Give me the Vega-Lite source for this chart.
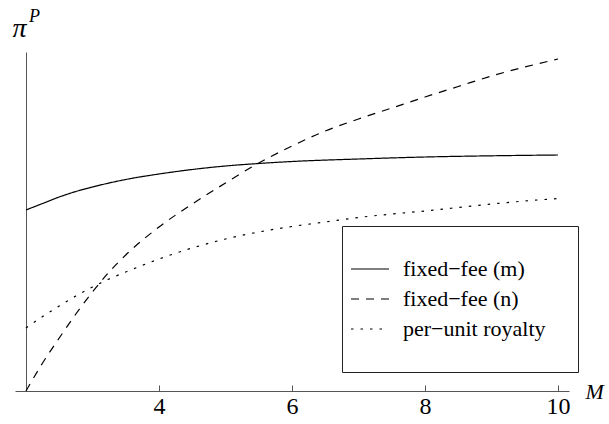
{
  "$schema": "https://vega.github.io/schema/vega-lite/v6.json",
  "width": 554,
  "height": 339,
  "autosize": {"type": "none"},
  "padding": {"left": 15, "top": 52, "right": 40, "bottom": 33},
  "background": "white",
  "config": {"view": {"stroke": null}, "font": "Liberation Serif, Times New Roman, Times, serif"},
  "title": {"text": "P", "font": "Liberation Serif, Times New Roman, Times, serif", "fontStyle": "italic", "fontWeight": "normal", "fontSize": 18, "color": "black", "anchor": "start", "frame": "group", "offset": 0, "baseline": "alphabetic", "dx": 14, "dy": 26},
  "data": {"values": [
    {"series": "fixed−fee (m)", "M": 2, "value": 1.81},
    {"series": "fixed−fee (m)", "M": 2.25, "value": 1.875},
    {"series": "fixed−fee (m)", "M": 2.5, "value": 1.94},
    {"series": "fixed−fee (m)", "M": 2.75, "value": 1.995},
    {"series": "fixed−fee (m)", "M": 3, "value": 2.04},
    {"series": "fixed−fee (m)", "M": 3.5, "value": 2.115},
    {"series": "fixed−fee (m)", "M": 4, "value": 2.17},
    {"series": "fixed−fee (m)", "M": 4.5, "value": 2.215},
    {"series": "fixed−fee (m)", "M": 5, "value": 2.25},
    {"series": "fixed−fee (m)", "M": 5.5, "value": 2.275},
    {"series": "fixed−fee (m)", "M": 6, "value": 2.295},
    {"series": "fixed−fee (m)", "M": 7, "value": 2.32},
    {"series": "fixed−fee (m)", "M": 8, "value": 2.34},
    {"series": "fixed−fee (m)", "M": 9, "value": 2.352},
    {"series": "fixed−fee (m)", "M": 10, "value": 2.36},
    {"series": "fixed−fee (n)", "M": 2, "value": 0.0},
    {"series": "fixed−fee (n)", "M": 2.25, "value": 0.28},
    {"series": "fixed−fee (n)", "M": 2.5, "value": 0.53},
    {"series": "fixed−fee (n)", "M": 2.75, "value": 0.77},
    {"series": "fixed−fee (n)", "M": 3, "value": 0.99},
    {"series": "fixed−fee (n)", "M": 3.25, "value": 1.19},
    {"series": "fixed−fee (n)", "M": 3.5, "value": 1.36},
    {"series": "fixed−fee (n)", "M": 4, "value": 1.64},
    {"series": "fixed−fee (n)", "M": 4.5, "value": 1.87},
    {"series": "fixed−fee (n)", "M": 5, "value": 2.08},
    {"series": "fixed−fee (n)", "M": 5.5, "value": 2.28},
    {"series": "fixed−fee (n)", "M": 6, "value": 2.45},
    {"series": "fixed−fee (n)", "M": 6.5, "value": 2.6},
    {"series": "fixed−fee (n)", "M": 7, "value": 2.72},
    {"series": "fixed−fee (n)", "M": 7.5, "value": 2.83},
    {"series": "fixed−fee (n)", "M": 8, "value": 2.94},
    {"series": "fixed−fee (n)", "M": 8.5, "value": 3.045},
    {"series": "fixed−fee (n)", "M": 9, "value": 3.15},
    {"series": "fixed−fee (n)", "M": 9.5, "value": 3.24},
    {"series": "fixed−fee (n)", "M": 10, "value": 3.32},
    {"series": "per−unit royalty", "M": 2, "value": 0.63},
    {"series": "per−unit royalty", "M": 2.25, "value": 0.745},
    {"series": "per−unit royalty", "M": 2.5, "value": 0.85},
    {"series": "per−unit royalty", "M": 2.75, "value": 0.95},
    {"series": "per−unit royalty", "M": 3, "value": 1.04},
    {"series": "per−unit royalty", "M": 3.25, "value": 1.12},
    {"series": "per−unit royalty", "M": 3.5, "value": 1.19},
    {"series": "per−unit royalty", "M": 4, "value": 1.32},
    {"series": "per−unit royalty", "M": 4.5, "value": 1.43},
    {"series": "per−unit royalty", "M": 5, "value": 1.52},
    {"series": "per−unit royalty", "M": 5.5, "value": 1.59},
    {"series": "per−unit royalty", "M": 6, "value": 1.645},
    {"series": "per−unit royalty", "M": 6.5, "value": 1.69},
    {"series": "per−unit royalty", "M": 7, "value": 1.735},
    {"series": "per−unit royalty", "M": 7.5, "value": 1.77},
    {"series": "per−unit royalty", "M": 8, "value": 1.8},
    {"series": "per−unit royalty", "M": 8.5, "value": 1.835},
    {"series": "per−unit royalty", "M": 9, "value": 1.87},
    {"series": "per−unit royalty", "M": 9.5, "value": 1.9},
    {"series": "per−unit royalty", "M": 10, "value": 1.925}
  ]},
  "mark": {"type": "line", "interpolate": "monotone", "color": "black", "strokeWidth": 1.2, "clip": false},
  "encoding": {
    "x": {
      "field": "M", "type": "quantitative",
      "scale": {"domain": [1.835, 10.165], "nice": false, "zero": false},
      "axis": {
        "values": [4, 6, 8, 10], "grid": false, "domainColor": "#555", "domainWidth": 1,
        "tickColor": "#555", "tickSize": -6, "tickWidth": 1,
        "labelFont": "Liberation Serif, Times New Roman, Times, serif", "labelFontSize": 24, "labelColor": "black", "labelPadding": 9,
        "title": "M", "titleFont": "Liberation Serif, Times New Roman, Times, serif", "titleFontStyle": "italic", "titleFontWeight": "normal",
        "titleFontSize": 22, "titleColor": "black", "titleAngle": 0, "titleX": 570, "titleY": 7,
        "titleAlign": "left", "titleBaseline": "alphabetic"
      }
    },
    "y": {
      "field": "value", "type": "quantitative",
      "scale": {"domain": [0, 3.39], "nice": false},
      "axis": {
        "offset": -11, "grid": false, "ticks": false, "labels": false, "domainColor": "#555", "domainWidth": 1,
        "title": "π", "titleFont": "Liberation Serif, Times New Roman, Times, serif", "titleFontStyle": "italic", "titleFontWeight": "normal",
        "titleFontSize": 28, "titleColor": "black", "titleAngle": 0, "titleX": -14, "titleY": -16,
        "titleAlign": "left", "titleBaseline": "alphabetic"
      }
    },
    "strokeDash": {
      "field": "series", "type": "nominal",
      "scale": {"domain": ["fixed−fee (m)", "fixed−fee (n)", "per−unit royalty"], "range": [[1, 0], [8, 7], [2.5, 7]]},
      "legend": {
        "title": null, "orient": "none", "legendX": 327, "legendY": 174,
        "strokeColor": "#222", "fillColor": "white", "padding": 32,
        "symbolType": "M-2,0H2", "symbolSize": 361, "symbolStrokeWidth": 1.2, "symbolStrokeColor": "black",
        "symbolOffset": -15,
        "labelFont": "Liberation Serif, Times New Roman, Times, serif", "labelFontSize": 22, "labelColor": "black", "labelOffset": 22,
        "rowPadding": 8, "labelLimit": 400
      }
    }
  }
}
